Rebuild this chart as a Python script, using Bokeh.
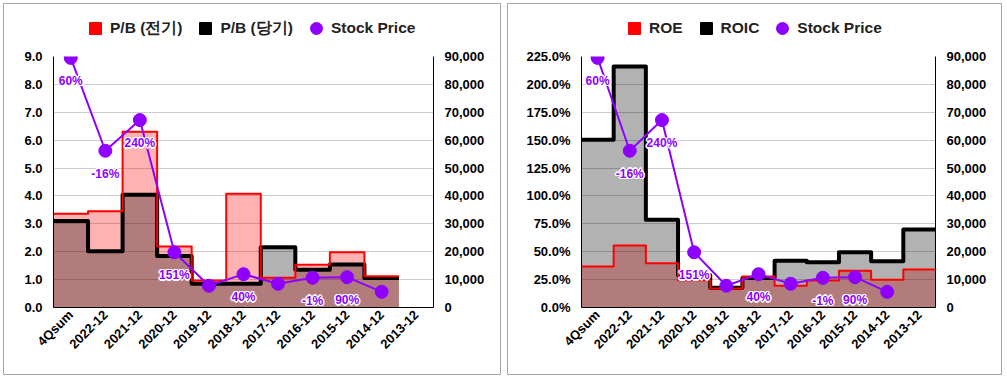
import math
from bokeh.plotting import figure
from bokeh.models import (FactorRange, Range1d, LinearAxis, SingleIntervalTicker,
                          NumeralTickFormatter, PrintfTickFormatter, ColumnDataSource,
                          Legend, LegendItem)
from bokeh.layouts import row, column
from bokeh.embed import file_html
from bokeh.resources import INLINE

nan = float("nan")

categories = ["4Qsum", "2022-12", "2021-12", "2020-12", "2019-12", "2018-12",
              "2017-12", "2016-12", "2015-12", "2014-12", "2013-12"]
pb_prev = [3.36, 3.45, 6.30, 2.19, 0.97, 4.08, 1.07, 1.53, 1.98, 1.12, nan]
pb_curr = [3.10, 2.02, 4.04, 1.85, 0.85, 0.85, 2.16, 1.35, 1.54, 1.06, nan]
roe = [36.7, 55.6, 39.7, 24.5, 17.0, 27.8, 19.4, 24.2, 32.9, 24.8, 34.0]
roic = [150.3, 216.0, 78.6, 29.0, 17.7, 26.5, 41.8, 40.6, 49.6, 41.5, 69.9]
stock_price = [89500, 56200, 67200, 19800, 7800, 11950, 8500, 10650, 10870, 5620, nan]
price_change = ["60%", "-16%", "240%", "151%", "", "40%", "", "-1%", "90%", "", ""]

PURPLE = "#8f00ff"
FONT = "Liberation Sans"
LEG_H = 42


def step_coords(vals):
    xs, ys = [], []
    for i, v in enumerate(vals):
        if v is None or math.isnan(v):
            continue
        xs += [i, i + 1]
        ys += [v, v]
    return xs, ys


def make_legend(width, red_name, black_name, legend_x):
    lf = figure(width=width, height=LEG_H, x_range=Range1d(0, 1), y_range=Range1d(0, 1),
                output_backend="svg", toolbar_location=None,
                min_border=0, min_border_left=0, min_border_right=0,
                min_border_top=0, min_border_bottom=0)
    lf.axis.visible = False
    lf.grid.visible = False
    lf.outline_line_color = None
    lf.border_fill_color = "white"
    d1 = lf.scatter([0], [nan], marker="square", size=12,
                    fill_color="red", line_color="red")
    d2 = lf.scatter([0], [nan], marker="square", size=12,
                    fill_color="black", line_color="black")
    d3 = lf.scatter([0], [nan], marker="circle", size=12,
                    fill_color=PURPLE, line_color=PURPLE)
    legend = Legend(items=[LegendItem(label=red_name, renderers=[d1]),
                           LegendItem(label=black_name, renderers=[d2]),
                           LegendItem(label="Stock Price", renderers=[d3])],
                    orientation="horizontal", location=(legend_x, 3),
                    border_line_color=None, background_fill_alpha=0,
                    glyph_width=30, glyph_height=30, label_standoff=0,
                    spacing=8, padding=0, margin=0,
                    label_text_font=FONT, label_text_font_style="bold",
                    label_text_font_size="15.5px", label_text_color="#222222")
    lf.add_layout(legend, "center")
    return lf


def make_chart(width, border_left, border_right, y_end, y_interval, y_formatter,
               red_vals, black_vals):
    p = figure(width=width, height=370 - LEG_H,
               x_range=FactorRange(factors=categories, range_padding=0),
               y_range=Range1d(0, y_end),
               output_backend="svg", toolbar_location=None,
               min_border_left=border_left, min_border_right=border_right,
               min_border_top=10, min_border_bottom=67)
    p.extra_y_ranges = {"price": Range1d(0, 90000)}
    p.outline_line_color = None
    p.background_fill_color = "white"
    p.border_fill_color = "white"

    p.xgrid.grid_line_color = None
    p.ygrid.grid_line_color = "#cccccc"

    # step areas
    rx, ry = step_coords(red_vals)
    bx, by = step_coords(black_vals)
    p.patch([rx[0]] + rx + [rx[-1]], [0] + ry + [0], fill_color="red",
            fill_alpha=0.3, line_color=None)
    p.patch([bx[0]] + bx + [bx[-1]], [0] + by + [0], fill_color="black",
            fill_alpha=0.3, line_color=None)
    p.line(bx, by, line_color="black", line_width=4, line_join="round")
    p.line(rx, ry, line_color="red", line_width=2, line_join="round")

    src = ColumnDataSource(dict(cat=categories, price=stock_price, lbl=price_change))
    p.line("cat", "price", source=src, y_range_name="price", line_color=PURPLE,
           line_width=2)
    p.scatter("cat", "price", source=src, y_range_name="price", size=13,
              marker="circle", fill_color=PURPLE, line_color=PURPLE)
    halo = [(-1, -1), (0, -1.5), (1, -1), (-1.5, 0), (1.5, 0), (-1, 1), (0, 1.5), (1, 1)]
    for dx, dy in halo:
        p.text("cat", "price", text="lbl", source=src, y_range_name="price",
               x_offset=dx, y_offset=23 + dy, text_align="center",
               text_baseline="middle", text_color="white",
               text_font_size="12px", text_font={"value": FONT},
               text_font_style="bold")
    p.text("cat", "price", text="lbl", source=src, y_range_name="price",
           y_offset=23, text_align="center", text_baseline="middle",
           text_color=PURPLE, text_font_size="12px", text_font={"value": FONT},
           text_font_style="bold")

    # axes
    yaxis = p.yaxis[0]
    yaxis.ticker = SingleIntervalTicker(interval=y_interval)
    yaxis.formatter = y_formatter
    raxis = LinearAxis(y_range_name="price", ticker=SingleIntervalTicker(interval=10000),
                       formatter=NumeralTickFormatter(format="0,0"))
    p.add_layout(raxis, "right")
    for ax in [yaxis, raxis, p.xaxis[0]]:
        ax.axis_line_color = "black"
        ax.axis_line_width = 1
        ax.major_tick_line_color = None
        ax.minor_tick_line_color = None
        ax.major_tick_out = 0
        ax.major_tick_in = 0
        ax.major_label_text_font = FONT
        ax.major_label_text_font_style = "bold"
        ax.major_label_text_font_size = "13px"
        ax.major_label_text_color = "black"
        ax.major_label_standoff = 7
    p.xaxis[0].major_label_orientation = math.pi / 4
    p.xaxis[0].major_label_standoff = 5
    return p


W1, W2 = 496, 493
lg1 = make_legend(W1, "P/B (전기)", "P/B (당기)", 27)
p1 = make_chart(W1, 49, 67, 9, 1, NumeralTickFormatter(format="0.0"), pb_prev, pb_curr)
lg2 = make_legend(W2, "ROE", "ROIC", 38)
p2 = make_chart(W2, 73, 66, 225, 25, PrintfTickFormatter(format="%.1f%%"), roe, roic)

panel_style = {"border": "1px solid #a6a6a6"}
c1 = column(lg1, p1, spacing=0, styles=panel_style)
c2 = column(lg2, p2, spacing=0, styles=panel_style)
layout = row(c1, c2, spacing=6, margin=(3, 0, 0, 3))
open("out.html", "w").write(file_html(layout, INLINE))
